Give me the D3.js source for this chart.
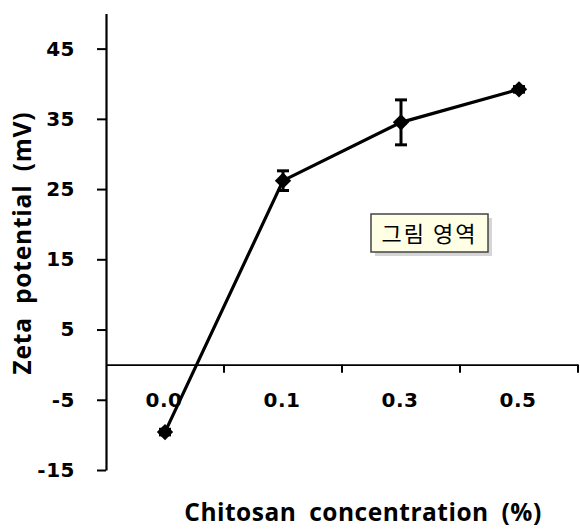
<!DOCTYPE html>
<html lang="en">
<head>
    <meta charset="UTF-8">
    <style>
        body { margin: 0; background: #fff; }
        .tick text { font: bold 20px "DejaVu Sans", sans-serif; fill: #000; letter-spacing: 0.5px; }
        .title { font: bold 24.5px "Open Sans", sans-serif; fill: #000; letter-spacing: 0.8px; word-spacing: 6px; }
    </style>
    <script src="https://d3js.org/d3.v7.min.js"></script>
    <title>Zeta potential</title>
</head>
<body>
    <svg width="580" height="529"></svg>
    <script>

        // data
        var categories = ["0.0", "0.1", "0.3", "0.5"];
        var zeta = [-9.6, 26.2, 34.5, 39.2];
        var errs = [0.4, 1.4, 3.2, 0.4];
        var yTicks = [-15, -5, 5, 15, 25, 35, 45];

        var svg = d3.select("svg");

        var x = d3.scaleBand().domain(categories).range([106, 578]);
        var y = d3.scaleLinear().domain([-15, 50]).range([470, 13.5]);

        // y axis (hyphen minus like the original)
        var yAxis = svg.append("g")
            .attr("transform", "translate(106,0)")
            .call(d3.axisLeft(y).tickValues(yTicks).tickSize(9).tickPadding(22).tickSizeOuter(0)
                .tickFormat(function(d) { return String(d); }));
        yAxis.select(".domain").attr("stroke-width", 2.2);
        yAxis.selectAll(".tick line").attr("stroke-width", 2);

        // x axis on the zero line, labels placed lower
        var xAxis = svg.append("g")
            .attr("transform", "translate(0," + y(0) + ")")
            .call(d3.axisBottom(x).tickSize(0).tickPadding(28));
        xAxis.select(".domain").attr("stroke-width", 1.8);
        xAxis.selectAll(".tick text").attr("dx", -1);

        // small tick marks between categories
        svg.append("g").selectAll("line")
            .data(categories.slice(1).concat(["end"]))
            .enter().append("line")
            .attr("x1", function(d, i) { return x.range()[0] + x.step() * (i + 1); })
            .attr("x2", function(d, i) { return x.range()[0] + x.step() * (i + 1); })
            .attr("y1", y(0))
            .attr("y2", y(0) + 8)
            .attr("stroke", "#000")
            .attr("stroke-width", 2);

        var cx = function(i) { return x(categories[i]) + x.bandwidth() / 2; };

        // line
        var line = d3.line()
            .x(function(d, i) { return cx(i); })
            .y(function(d) { return y(d); });

        svg.append("path")
            .datum(zeta)
            .attr("d", line)
            .attr("fill", "none")
            .attr("stroke", "#000")
            .attr("stroke-width", 3.2);

        // error bars
        var eb = svg.append("g").attr("stroke", "#000").attr("stroke-width", 3);
        zeta.forEach(function(v, i) {
            eb.append("line")
                .attr("x1", cx(i)).attr("x2", cx(i))
                .attr("y1", y(v - errs[i])).attr("y2", y(v + errs[i]));
            [v - errs[i], v + errs[i]].forEach(function(e) {
                eb.append("line")
                    .attr("x1", cx(i) - 6).attr("x2", cx(i) + 6)
                    .attr("y1", y(e)).attr("y2", y(e));
            });
        });

        // diamond markers
        svg.append("g").selectAll("path")
            .data(zeta)
            .enter().append("path")
            .attr("d", d3.symbol().type(d3.symbolDiamond2).size(170))
            .attr("transform", function(d, i) { return "translate(" + cx(i) + "," + y(d) + ")"; })
            .attr("fill", "#000");

        // axis titles
        svg.append("text")
            .attr("class", "title")
            .attr("transform", "translate(31,243) rotate(-90)")
            .attr("text-anchor", "middle")
            .text("Zeta potential (mV)");

        svg.append("text")
            .attr("class", "title")
            .attr("x", 363)
            .attr("y", 521)
            .attr("text-anchor", "middle")
            .style("letter-spacing", "0.5px")
            .text("Chitosan concentration (%)");

        // plot-area tooltip box
        var box = svg.append("g").attr("transform", "translate(371,214)");
        box.append("rect")
            .attr("x", 4).attr("y", 4)
            .attr("width", 117).attr("height", 38)
            .attr("fill", "#bbb").attr("opacity", 0.6);
        box.append("rect")
            .attr("width", 117).attr("height", 38)
            .attr("fill", "#ffffe6")
            .attr("stroke", "#444").attr("stroke-width", 1.5);
        box.append("text")
            .attr("x", 58.5).attr("y", 28)
            .attr("text-anchor", "middle")
            .style("font", "22px 'Noto Sans CJK KR', sans-serif")
            .style("letter-spacing", "2px")
            .text("그림 영역");

    </script>
</body>
</html>
